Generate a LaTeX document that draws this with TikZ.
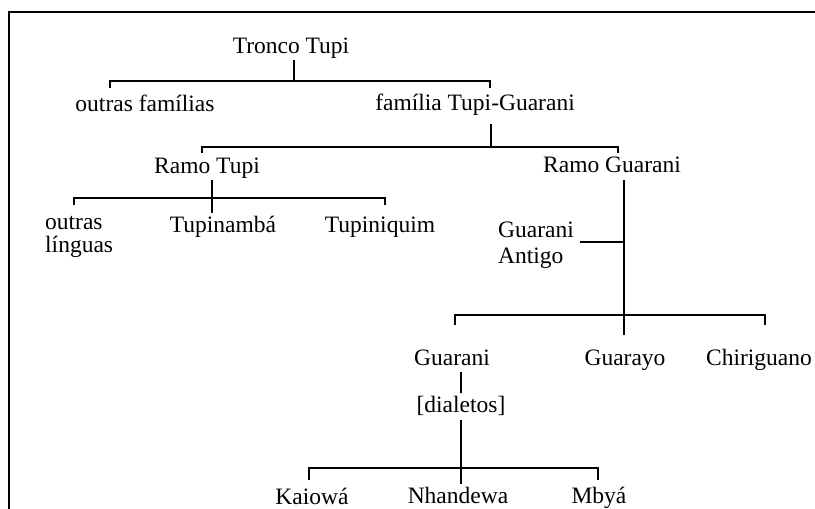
\documentclass[tikz,border=0pt]{standalone}
\usepackage{fontspec}
\setmainfont{Liberation Serif}

\begin{document}
\begin{tikzpicture}[x=1pt,y=-1pt,
        lbl/.style={font=\fontsize{23.5}{28}\selectfont, inner sep=2pt},
        tree/.style={line width=1.8pt}]
        \useasboundingbox (0,0) rectangle (815,509);
        % Draw frame
        \draw[tree] (9,509) -- (9,12) -- (815,12);

        % Labels
        \node[lbl,anchor=base] (tronco) at (291,53) {Tronco Tupi};
        \node[lbl,anchor=base] (outrasfam) at (145,111) {outras famílias};
        \node[lbl,anchor=base] (tupiguarani) at (475,110) {família Tupi-Guarani};
        \node[lbl,anchor=base] (ramotupi) at (207,173) {Ramo Tupi};
        \node[lbl,anchor=base] (ramoguarani) at (612,172) {Ramo Guarani};
        \node[lbl,anchor=base west] (outras) at (43,229) {outras};
        \node[lbl,anchor=base west] (linguas) at (43,252) {línguas};
        \node[lbl,anchor=base] (tupinamba) at (223,232) {Tupinambá};
        \node[lbl,anchor=base] (tupiniquim) at (380,232) {Tupiniquim};
        \node[lbl,anchor=base west] (guarantigo) at (496,237) {Guarani};
        \node[lbl,anchor=base west] (antigo) at (496,263) {Antigo};
        \node[lbl,anchor=base] (guarani) at (452,365) {Guarani};
        \node[lbl,anchor=base] (guarayo) at (625,365) {Guarayo};
        \node[lbl,anchor=base] (chiriguano) at (759,365) {Chiriguano};
        \node[lbl,anchor=base] (dialetos) at (461,412) {[dialetos]};
        \node[lbl,anchor=base] (kaiowa) at (312,504) {Kaiowá};
        \node[lbl,anchor=base] (nhandewa) at (458,503) {Nhandewa};
        \node[lbl,anchor=base] (mbya) at (599,503) {Mbyá};

        % Tronco Tupi
        \coordinate (j1) at (294,81);
        \coordinate (t1l) at (110,88);
        \coordinate (t1r) at (490,88);
        \draw[tree] (tronco.south -| j1) -- (j1);
        \draw[tree] (t1l) |- (j1) -| (t1r);

        % familia Tupi-Guarani
        \coordinate (j2) at (491,147);
        \coordinate (t2l) at (202,153);
        \coordinate (t2r) at (618,153);
        \draw[tree,shorten <=7pt] (tupiguarani.south -| j2) -- (j2);
        \draw[tree] (t2l) |- (j2) -| (t2r);

        % Ramo Tupi
        \coordinate (j3) at (212,198);
        \coordinate (t3l) at (74,205);
        \coordinate (t3r) at (385,205);
        \draw[tree] (ramotupi.south -| j3) -- (tupinamba.north -| j3);
        \draw[tree] (t3l) |- (j3) -| (t3r);

        % Ramo Guarani
        \coordinate (a4) at (624,242);
        \coordinate (j4) at (624,315);
        \coordinate (t4l) at (455,325);
        \coordinate (t4r) at (765,325);
        \draw[tree,shorten <=6pt,shorten >=12pt] (ramoguarani.south -| j4) -- (guarayo.north -| j4);
        \draw[tree,shorten <=4pt] (guarantigo.east |- a4) -- (a4);
        \draw[tree] (t4l) |- (j4) -| (t4r);

        % Guarani / dialetos
        \draw[tree,shorten <=5pt] (guarani.south -| dialetos) -- (dialetos.north);
        \coordinate (j6) at (461,468);
        \coordinate (t6l) at (309,480);
        \coordinate (t6r) at (598,480);
        \draw[tree,shorten <=3pt] (dialetos.south) -- (nhandewa.north -| dialetos.south);
        \draw[tree] (t6l) |- (j6) -| (t6r);
\end{tikzpicture}
\end{document}
